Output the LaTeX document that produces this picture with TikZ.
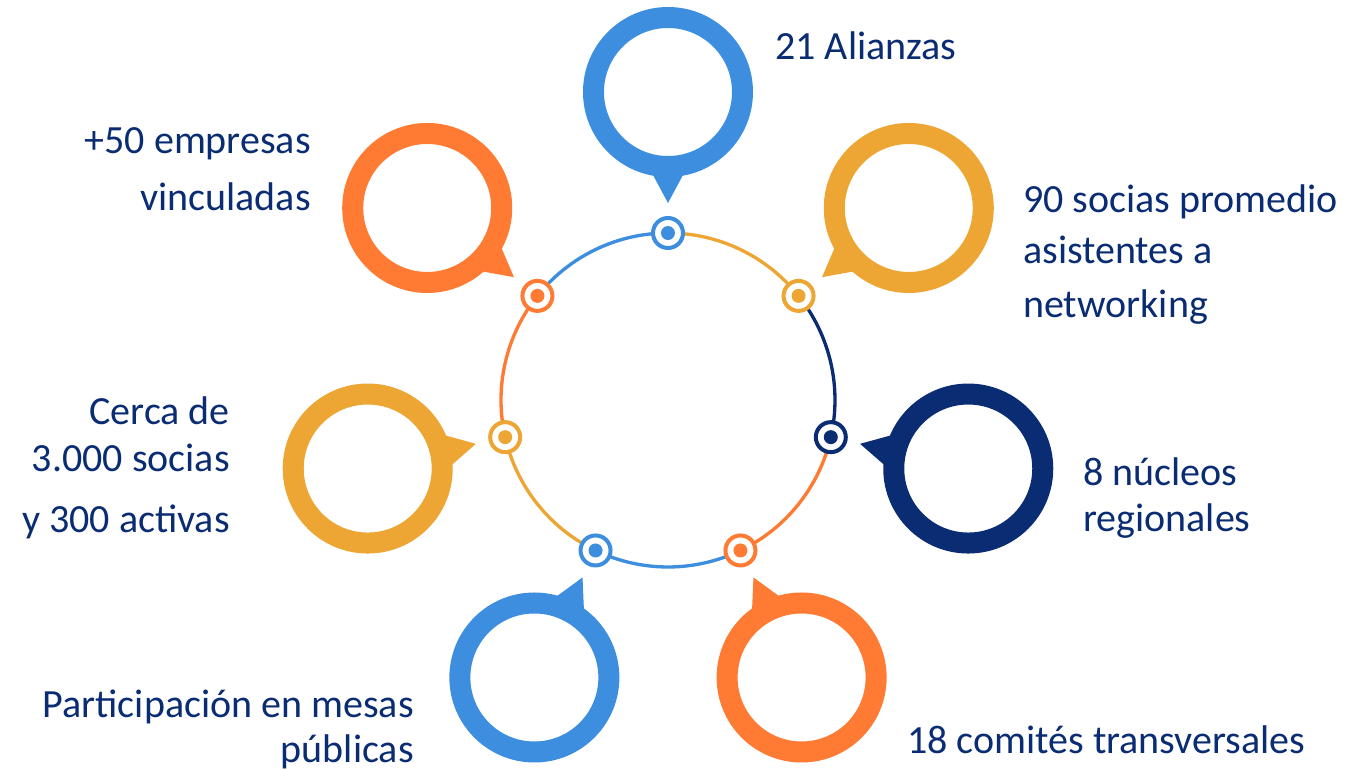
\documentclass[tikz,border=0pt]{standalone}
\usepackage{fontspec}
\setmainfont{Carlito}
\usetikzlibrary{calc}
\definecolor{cblue}{RGB}{61,142,222}
\definecolor{corange}{RGB}{255,122,50}
\definecolor{cgold}{RGB}{237,166,51}
\definecolor{cnavy}{RGB}{10,44,114}

\begin{document}
\begin{tikzpicture}[x=0.75pt, y=0.75pt,
        ring/.style={line width=2.5pt},
        bubble/.style={circle, draw=#1, line width=15.75pt, outer sep=7.875pt, minimum size=111.75pt, inner sep=0pt},
        hub/.style={circle, draw=#1, fill=white, line width=3pt, minimum size=22.5pt, inner sep=0pt},
        hubdot/.style={circle, fill=#1, minimum size=10.5pt, inner sep=0pt},
        txt/.style={font=\fontsize{30}{36}\selectfont, text=cnavy, inner sep=0pt}
    ]
    \useasboundingbox (-668,-369) rectangle (697,400);

    % ring segments, each one coloured like the hub it ends at
    \foreach \col [count=\k from 0] in {cblue,cgold,cnavy,corange,cblue,cgold,corange} {
        \pgfmathsetmacro\ang{90-\k*360/7}
        \coordinate (p\k) at (\ang:167);
        \draw[ring, \col] (p\k) arc[start angle=\ang, delta angle=360/7, radius=167];
    }

    % bubbles with pointer, hubs on the ring
    \foreach \col [count=\k from 0] in {cblue,cgold,cnavy,corange,cblue,cgold,corange} {
        \pgfmathsetmacro\ang{90-\k*360/7}
        \pgfmathsetmacro\dir{\ang+180}
        \node[bubble=\col] (b\k) at (\ang:308) {};
        \coordinate (tip\k) at (\ang:197);
        \fill[\col] ($(b\k.center)+({\dir-11}:83)$) -- (tip\k) -- ($(b\k.center)+({\dir+11}:83)$) -- cycle;
        \node[hub=\col] (h\k) at (p\k) {};
        \node[hubdot=\col] (hd\k) at (p\k) {};
    }

    \node[txt, anchor=base west] (t0) at (107,341) {21 Alianzas};
    \node[txt, anchor=base west] (t1a) at (355,188) {90 socias promedio};
    \node[txt, anchor=base west] (t1b) at (355,137) {asistentes a};
    \node[txt, anchor=base west] (t1c) at (355,83) {networking};
    \node[txt, anchor=base west] (t2a) at (415,-85) {8 núcleos};
    \node[txt, anchor=base west] (t2b) at (415,-131) {regionales};
    \node[txt, anchor=base west] (t3) at (239,-353) {18 comités transversales};
    \node[txt, anchor=base east] (t4a) at (-254,-317) {Participación en mesas};
    \node[txt, anchor=base east] (t4b) at (-254,-362) {públicas};
    \node[txt, anchor=base east] (t5a) at (-438,-24) {Cerca de};
    \node[txt, anchor=base east] (t5b) at (-438,-71) {3.000 socias};
    \node[txt, anchor=base east] (t5c) at (-438,-132) {y 300 activas};
    \node[txt, anchor=base east] (t6a) at (-357,247) {+50 empresas};
    \node[txt, anchor=base east] (t6b) at (-357,190) {vinculadas};

\end{tikzpicture}
\end{document}
